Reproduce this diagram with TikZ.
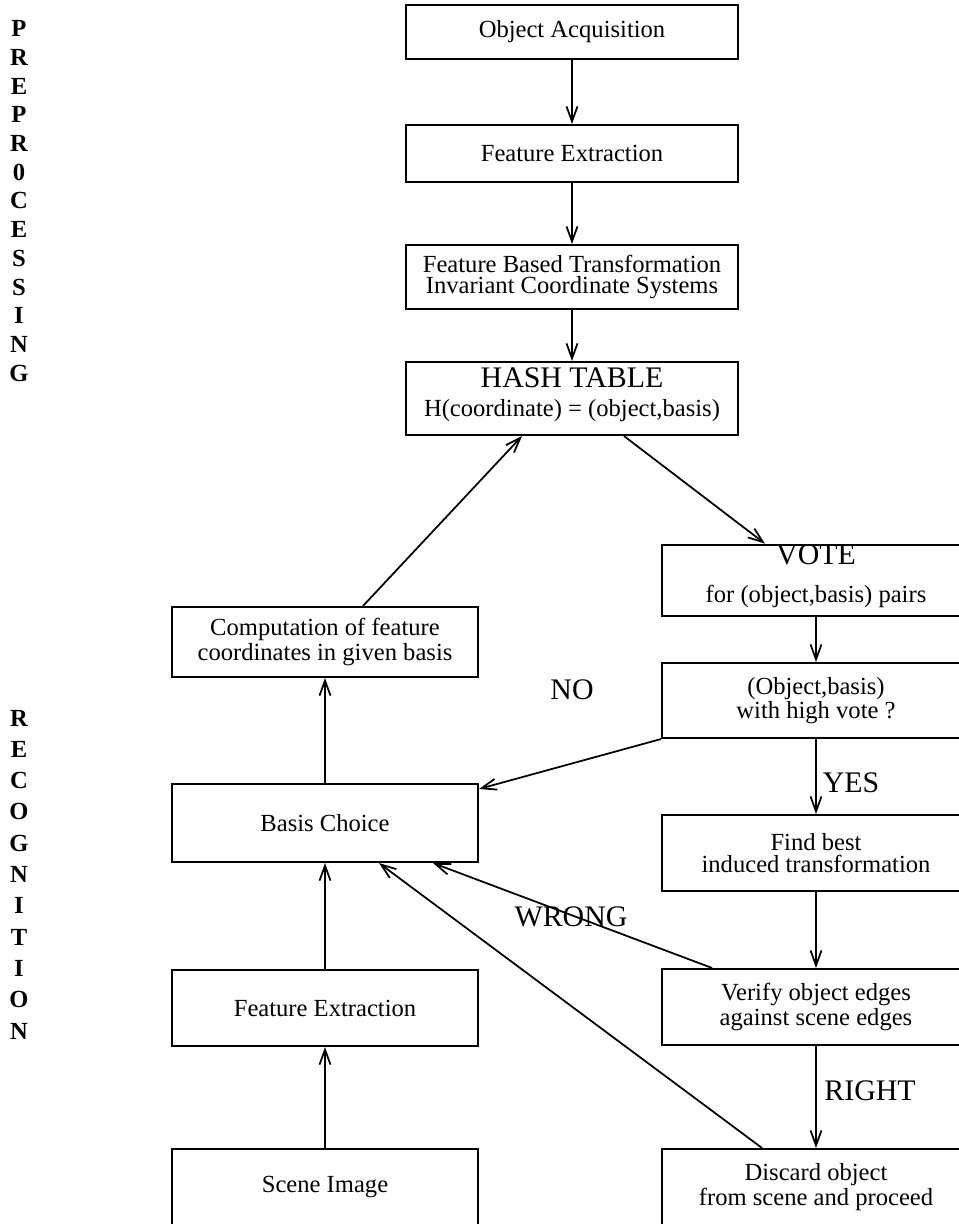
\documentclass[tikz,border=0pt]{standalone}
\usepackage{fontspec}
\setmainfont{Liberation Serif}
\usetikzlibrary{arrows.meta,calc}

\tikzset{
  box/.style={draw, line width=1.2pt, inner sep=0pt, align=center,
    font=\fontsize{14}{12.5}\selectfont},
  topbox/.style={box, minimum width=6.64cm},
  lbox/.style={box, minimum width=6.12cm},
  rbox/.style={box, minimum width=6.16cm},
  flow/.style={-{Straight Barb[length=0.3cm,width=0.22cm]}, line width=1pt},
  tag/.style={font=\fontsize{17}{17}\selectfont},
  side/.style={font=\bfseries\fontsize{14}{14}\selectfont},
}
\newcommand{\bigtitle}[1]{{\fontsize{17}{17}\selectfont #1}}

\begin{document}
\begin{tikzpicture}[x=0.02cm,y=-0.02cm]
  \useasboundingbox (0,0) rectangle (959,1224);

  % side headings
  \foreach[count=\i] \c in {P,R,E,P,R,0,C,E,S,S,I,N,G} {
    \node[side] (pre\i) at (19,28.7*\i) {\c};
  }
  \foreach[count=\i] \c in {R,E,C,O,G,N,I,T,I,O,N} {
    \node[side] (rec\i) at (19,686.7+31.3*\i) {\c};
  }

  % preprocessing column
  \node[topbox, minimum height=1.08cm] (oa) at (572,32) {Object Acquisition};
  \node[topbox, minimum height=1.14cm] (fe1) at (572,153.5) {Feature Extraction};
  \node[topbox, minimum height=1.28cm] (fbt) at (572,277)
    {Feature Based Transformation\\Invariant Coordinate Systems};
  \node[topbox, minimum height=1.46cm, text depth=7pt] (hash) at (572,398.5)
    {\bigtitle{HASH TABLE}\\[4pt]H(coordinate) = (object,basis)};

  % recognition, right column
  \node[rbox, minimum height=1.42cm, text depth=8pt] (vote) at (816,580.5)
    {\bigtitle{VOTE}\\[9pt]for (object,basis) pairs};
  \node[rbox, minimum height=1.5cm] (obj) at (816,700.5)
    {(Object,basis)\\with high vote ?};
  \node[rbox, minimum height=1.52cm] (find) at (816,853)
    {Find best\\induced transformation};
  \node[rbox, minimum height=1.52cm] (verify) at (816,1007)
    {Verify object edges\\against scene edges};
  \node[rbox, minimum height=1.52cm] (discard) at (816,1187)
    {Discard object\\from scene and proceed};

  % recognition, left column
  \node[lbox, minimum height=1.4cm] (comp) at (325,642)
    {Computation of feature\\coordinates in given basis};
  \node[lbox, minimum height=1.56cm] (basis) at (325,823) {Basis Choice};
  \node[lbox, minimum height=1.52cm] (fe2) at (325,1008) {Feature Extraction};
  \node[lbox, minimum height=1.52cm] (scene) at (325,1187) {Scene Image};

  % branch labels
  \node[tag] (no) at (572,690) {NO};
  \node[tag] (yes) at (851,783) {YES};
  \node[tag] (wrong) at (571,917) {WRONG};
  \node[tag] (right) at (870,1091) {RIGHT};

  \draw[flow] (oa) -- (fe1);
  \draw[flow] (fe1) -- (fbt);
  \draw[flow] (fbt) -- (hash);
  \draw[flow] ($(hash.south)+(52,0)$) -- ($(vote.north)+(-51,0)$);
  \draw[flow] (vote) -- (obj);
  \draw[flow] (obj.south west) -- ($(basis.north east)+(0,6)$);
  \draw[flow] (obj) -- (find);
  \draw[flow] (find) -- (verify);
  \draw[flow] ($(verify.north)+(-104,0)$) -- ($(basis.south)+(108,0)$);
  \draw[flow] (verify) -- (discard);
  \draw[flow] ($(discard.north)+(-54,0)$) -- ($(basis.south)+(54,0)$);
  \draw[flow] (scene) -- (fe2);
  \draw[flow] (fe2) -- (basis);
  \draw[flow] (basis) -- (comp);
  \draw[flow] ($(comp.north)+(38,0)$) -- ($(hash.south)+(-50,0)$);
\end{tikzpicture}
\end{document}
